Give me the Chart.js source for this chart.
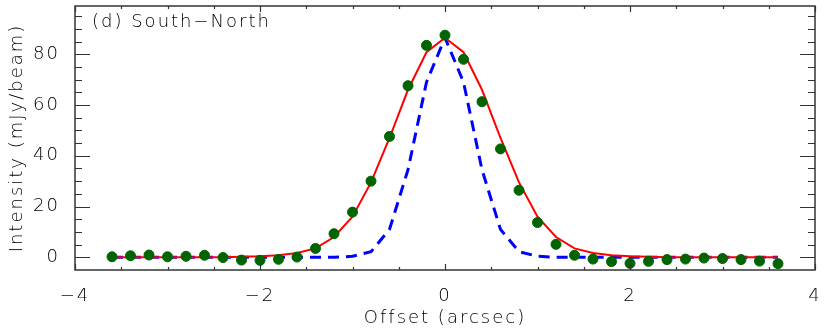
<!DOCTYPE html>
<html>
<head>
<meta charset="utf-8">
<script src="https://cdn.jsdelivr.net/npm/chart.js@4"></script>
<style>
  html, body { margin: 0; padding: 0; background: #fff; }
</style>
</head>
<body>
<canvas id="profileChart" width="830" height="330"></canvas>
<script>
// offsets along the cut (arcsec)
const offsets = [-3.6, -3.4, -3.2, -3.0, -2.8, -2.6, -2.4, -2.2, -2.0, -1.8, -1.6, -1.4, -1.2,
                 -1.0, -0.8, -0.6, -0.4, -0.2, 0.0, 0.2, 0.4, 0.6, 0.8, 1.0, 1.2, 1.4, 1.6,
                 1.8, 2.0, 2.2, 2.4, 2.6, 2.8, 3.0, 3.2, 3.4, 3.6];
// measured intensity (green dots)
const observed = [0.2, 0.6, 0.9, 0.2, 0.4, 0.8, -0.1, -1.1, -1.2, -0.8, 0.1, 3.5, 9.3,
                  17.8, 30.0, 47.6, 67.6, 83.5, 87.5, 78.0, 61.3, 42.7, 26.4, 13.7, 5.1, 0.8, -0.7,
                  -1.7, -2.4, -1.6, -0.9, -0.7, -0.3, -0.5, -0.9, -1.5, -2.5];
// model fit (red line)
const model = [0, 0, 0, 0, 0, 0, 0, 0.2, 0.4, 0.8, 1.7, 3.5, 8.0,
               16.0, 29.5, 47.0, 66.0, 80.8, 86.5, 80.8, 66.0, 47.0, 29.5, 16.0, 8.0, 3.5, 1.7,
               0.8, 0.4, 0.2, 0, 0, 0, 0, 0, 0, 0];
// beam profile (blue dashed)
const beam = [0, 0, 0, 0, 0, 0, 0, 0, 0, 0, 0, 0, 0,
              0.4, 2.2, 11.0, 34.5, 69.0, 86.5, 69.0, 34.5, 11.0, 2.2, 0.4, 0, 0, 0,
              0, 0, 0, 0, 0, 0, 0, 0, 0, 0];

const xTicks = [-4, -2, 0, 2, 4];
const yTicks = [0, 20, 40, 60, 80];
const panelLabel = "(d) South\u2212North";

const toPoints = arr => offsets.map((x, i) => ({ x, y: arr[i] }));
const minus = v => String(v).replace('-', '\u2212');
const FONT = "'DejaVu Sans', sans-serif";
const INK = "#000";
const TEXT_FONT = { family: FONT, size: 18, weight: 200 };

/* IDL-like wide lettering for every text on the canvas */
const spacingPlugin = {
    id: 'spacing',
    beforeInit(chart) { chart.ctx.letterSpacing = '2px'; },
    beforeDraw(chart) { chart.ctx.letterSpacing = '2px'; }
};

/* frame with inward ticks on all four sides + panel label */
const framePlugin = {
    id: 'frame',
    afterDraw(chart) {
        const { ctx, chartArea: a, scales: { x, y } } = chart;
        ctx.save();
        ctx.strokeStyle = "#333";
        ctx.lineWidth = 1.5;
        ctx.strokeRect(a.left, a.top, a.right - a.left, a.bottom - a.top);

        ctx.lineWidth = 1.2;
        ctx.beginPath();
        for (let v = -4; v <= 4.001; v += 0.5) {
            const px = Math.round(x.getPixelForValue(v)) + 0.5;
            const len = Math.abs(v % 2) < 1e-6 ? 6 : 3;
            ctx.moveTo(px, a.bottom); ctx.lineTo(px, a.bottom - len);
            ctx.moveTo(px, a.top); ctx.lineTo(px, a.top + len);
        }
        for (let v = 0; v <= 95; v += 5) {
            const py = Math.round(y.getPixelForValue(v)) + 0.5;
            const len = v % 20 === 0 ? 15 : 7;
            ctx.moveTo(a.left, py); ctx.lineTo(a.left + len, py);
            ctx.moveTo(a.right, py); ctx.lineTo(a.right - len, py);
        }
        ctx.stroke();

        ctx.fillStyle = INK;
        ctx.font = "200 18px " + FONT;
        ctx.textBaseline = "middle";
        ctx.fillText(panelLabel, 92, 22);
        ctx.restore();
    }
};

new Chart(document.getElementById('profileChart'), {
    type: 'scatter',
    data: {
        datasets: [
            {
                label: 'beam',
                type: 'line',
                data: toPoints(beam),
                borderColor: '#0000ff',
                borderWidth: 3,
                borderDash: [11, 7],
                pointRadius: 0,
                tension: 0,
                order: 3
            },
            {
                label: 'model',
                type: 'line',
                data: toPoints(model),
                borderColor: '#ff0000',
                borderWidth: 2,
                pointRadius: 0,
                tension: 0,
                order: 2
            },
            {
                label: 'observed',
                data: toPoints(observed),
                backgroundColor: '#006400',
                borderColor: '#006400',
                pointRadius: 5,
                order: 1
            }
        ]
    },
    options: {
        responsive: false,
        animation: false,
        layout: { padding: { top: 5, right: 15, left: 0, bottom: 0 } },
        plugins: { legend: { display: false }, tooltip: { enabled: false } },
        scales: {
            x: {
                type: 'linear',
                min: -4, max: 4,
                grid: { display: false },
                border: { display: false },
                afterBuildTicks: s => { s.ticks = xTicks.map(v => ({ value: v })); },
                afterFit: s => { s.height = 60; s.paddingLeft = 0; s.paddingRight = 0; },
                ticks: {
                    color: INK, font: TEXT_FONT, padding: 8,
                    maxRotation: 0, callback: v => minus(v)
                },
                title: {
                    display: true, text: 'Offset (arcsec)', color: INK,
                    font: TEXT_FONT, padding: { top: 0, bottom: 1 }
                }
            },
            y: {
                min: -5, max: 99,
                grid: { display: false },
                border: { display: false },
                afterBuildTicks: s => { s.ticks = yTicks.map(v => ({ value: v })); },
                afterFit: s => { s.width = 75; s.paddingTop = 0; s.paddingBottom = 0; },
                ticks: {
                    color: INK, font: TEXT_FONT, padding: 7,
                    callback: v => minus(v)
                },
                title: {
                    display: true, text: 'Intensity (mJy/beam)', color: INK,
                    font: TEXT_FONT, padding: { top: 7, bottom: 0 }
                }
            }
        }
    },
    plugins: [spacingPlugin, framePlugin]
});
</script>
</body>
</html>
